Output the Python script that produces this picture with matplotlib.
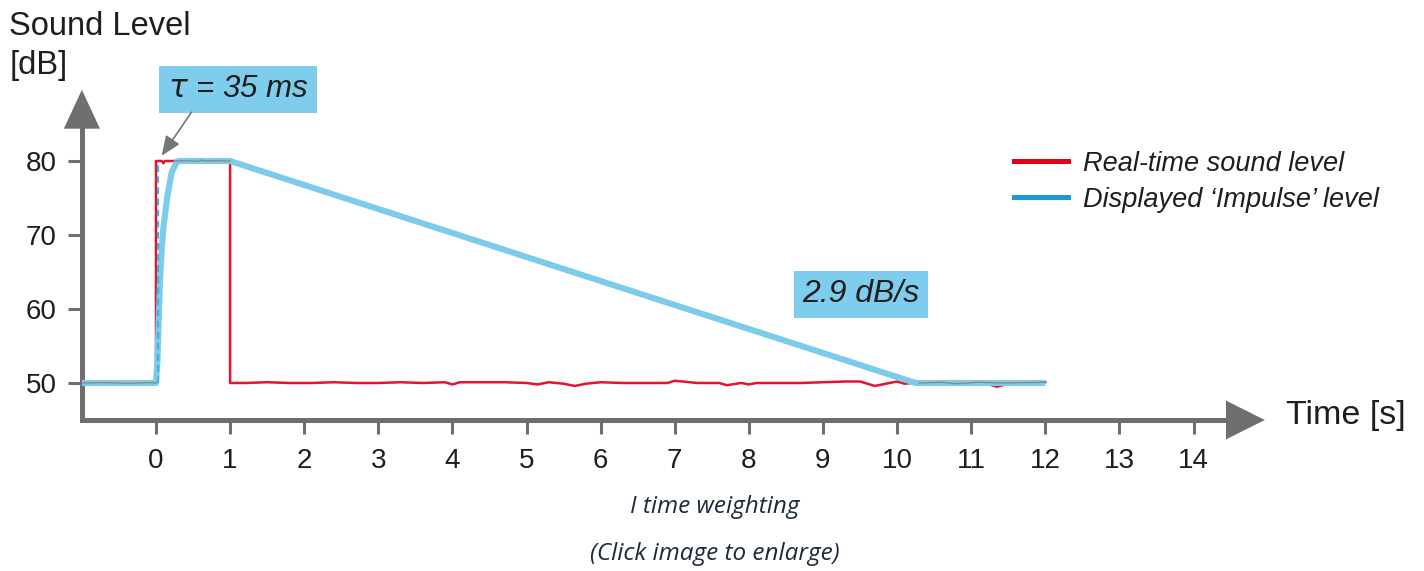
import numpy as np
import matplotlib.pyplot as plt
from matplotlib.lines import Line2D

# ---- data ----
x_ticks = list(range(0, 15))
y_ticks = [50, 60, 70, 80]

# real-time level: step 50 -> 80 at t=0, back to 50 at t=1, then noisy floor
red_t = [-1.0, 0.0, 0.0, 0.08, 0.10, 0.12, 1.0, 1.0,
         1.2, 1.5, 1.8, 2.1, 2.4, 2.7, 3.0, 3.3, 3.6, 3.9, 4.0, 4.1,
         4.4, 4.7, 5.0, 5.15, 5.3, 5.5, 5.65, 5.8, 6.0, 6.3, 6.6, 6.9,
         7.0, 7.3, 7.6, 7.7, 7.9, 8.0, 8.1, 8.4, 8.7, 9.0, 9.3, 9.5,
         9.7, 9.9, 10.0, 10.1, 10.3, 10.6, 10.9, 11.2, 11.35, 11.5, 11.8, 12.0]
red_db = [50.0, 50.0, 80.0, 80.0, 79.7, 80.0, 80.0, 50.0,
          50.0, 50.1, 50.0, 50.0, 50.1, 50.0, 50.0, 50.1, 50.0, 50.1, 49.8, 50.1,
          50.1, 50.1, 50.0, 49.8, 50.1, 49.9, 49.6, 49.9, 50.1, 50.0, 50.0, 50.0,
          50.3, 50.0, 50.0, 49.7, 50.0, 49.8, 50.0, 50.0, 50.0, 50.1, 50.2, 50.2,
          49.6, 50.0, 50.2, 49.9, 50.1, 50.0, 50.1, 49.9, 49.5, 49.9, 50.0, 50.1]

# displayed 'Impulse' level: exponential rise, hold, linear decay
blue_t = [-1.0, 0.0, 0.02, 0.035, 0.055, 0.08, 0.10, 0.15, 0.21, 0.28, 0.32, 1.0, 10.25, 12.0]
blue_db = [50.0, 50.0, 53.0, 58.0, 64.0, 68.5, 71.0, 75.0, 78.4, 79.9, 80.0, 80.0, 50.0, 50.0]

# thin grey trace where the two curves overlap
grey_segs = [
    ([-1.0, -0.7, -0.4, -0.1, 0.0], [50.0, 50.05, 49.95, 50.05, 50.0]),
    ([0.25, 0.4, 0.55, 0.6, 0.7, 0.85, 1.0], [80.0, 80.05, 79.95, 80.1, 80.0, 80.05, 80.0]),
    ([10.3, 10.6, 10.8, 11.1, 11.4, 11.7, 12.0], [50.0, 50.1, 49.9, 50.1, 50.0, 50.05, 50.1]),
]

dash_t = [0.03, 0.03]
dash_db = [50.0, 80.0]

grey = '#6f6f6f'
red = '#e3142d'
blue = '#7ccbea'
box_blue = '#7fcdec'
ink = '#1e1e1e'

plt.rcParams['font.family'] = ['Liberation Sans', 'DejaVu Sans']

fig = plt.figure(figsize=(14.24, 5.71), dpi=100)
ax = fig.add_axes([0, 0, 1, 1])
ax.set_xlim(-2.105, 17.11)
ax.set_ylim(24.59, 101.76)
ax.patch.set_alpha(0)

# axes drawn as arrows
for s in ['top', 'right']:
    ax.spines[s].set_visible(False)
ax.spines['left'].set_position(('data', -1))
ax.spines['bottom'].set_position(('data', 45))
ax.spines['left'].set_bounds(45, 86)
ax.spines['bottom'].set_bounds(-1, 14.5)
for s in ['left', 'bottom']:
    ax.spines[s].set_color(grey)
    ax.spines[s].set_linewidth(3.6)
ax.annotate('', xy=(-1, 90.0), xytext=(-1, 85.5),
            arrowprops=dict(arrowstyle='-|>,head_length=1.4,head_width=0.65',
                            color=grey, lw=0, mutation_scale=20))
ax.annotate('', xy=(15.0, 45), xytext=(14.4, 45),
            arrowprops=dict(arrowstyle='-|>,head_length=1.4,head_width=0.7',
                            color=grey, lw=0, mutation_scale=20))

ax.set_xticks(x_ticks)
ax.set_yticks(y_ticks)
ax.tick_params(axis='both', direction='out', length=10, width=2.2, color=grey,
               labelsize=20, labelcolor=ink)
ax.tick_params(axis='x', pad=10)
ax.tick_params(axis='y', pad=8)

# curves
ax.plot(red_t, red_db, color=red, lw=1.8, zorder=3)
ax.plot(blue_t, blue_db, color=blue, lw=4.4, solid_capstyle='butt', zorder=4)
ax.plot(dash_t, dash_db, color='#3fb0e0', lw=1.6, ls=(0, (3, 2)), zorder=5)
for gt, gd in grey_segs:
    ax.plot(gt, gd, color='#8a8a8a', lw=1.0, zorder=6)

# labels
ax.text(-1.98, 97.0, 'Sound Level', fontsize=23.5, color=ink, va='baseline', ha='left')
ax.text(-1.98, 91.76, '[dB]', fontsize=23.5, color=ink, va='baseline', ha='left')
ax.text(15.25, 44.46, 'Time [s]', fontsize=24.5, color=ink, va='baseline', ha='left')

ax.text(1.11, 89.7, r'$\tau$ = 35 ms', fontsize=22.5, style='italic', color=ink,
        ha='center', va='center',
        bbox=dict(boxstyle='square,pad=0.27', fc=box_blue, ec='none'))
ax.annotate('', xy=(0.055, 80.4), xytext=(0.5, 86.9),
            arrowprops=dict(arrowstyle='-|>,head_length=0.6,head_width=0.25',
                            color='#777777', lw=1.2, mutation_scale=20))
ax.text(9.51, 62.0, '2.9 dB/s', fontsize=23, style='italic', color=ink,
        ha='center', va='center',
        bbox=dict(boxstyle='square,pad=0.27', fc=box_blue, ec='none'))

handles = [Line2D([], [], color='#e2001a', lw=3.6),
           Line2D([], [], color='#1d9ad6', lw=3.6)]
leg = ax.legend(handles, ['Real-time sound level', 'Displayed \u2018Impulse\u2019 level'],
                loc='upper left', bbox_to_anchor=(1000 / 1424, 1 - 137 / 571),
                frameon=False, prop=dict(size=19.5, style='italic'),
                handlelength=2.0, handletextpad=0.55, labelspacing=0.38, borderpad=0)
for t in leg.get_texts():
    t.set_color(ink)

fig.text(715 / 1424, 1 - 507 / 571, 'I time weighting', fontsize=17.5, style='italic',
         color='#1b2a3a', ha='center', va='center', family=['Open Sans', 'DejaVu Sans'])
fig.text(715 / 1424, 1 - 554 / 571, '(Click image to enlarge)', fontsize=17.5, style='italic',
         color='#1b2a3a', ha='center', va='center', family=['Open Sans', 'DejaVu Sans'])

fig.savefig('out.png', dpi=100, facecolor='white')
